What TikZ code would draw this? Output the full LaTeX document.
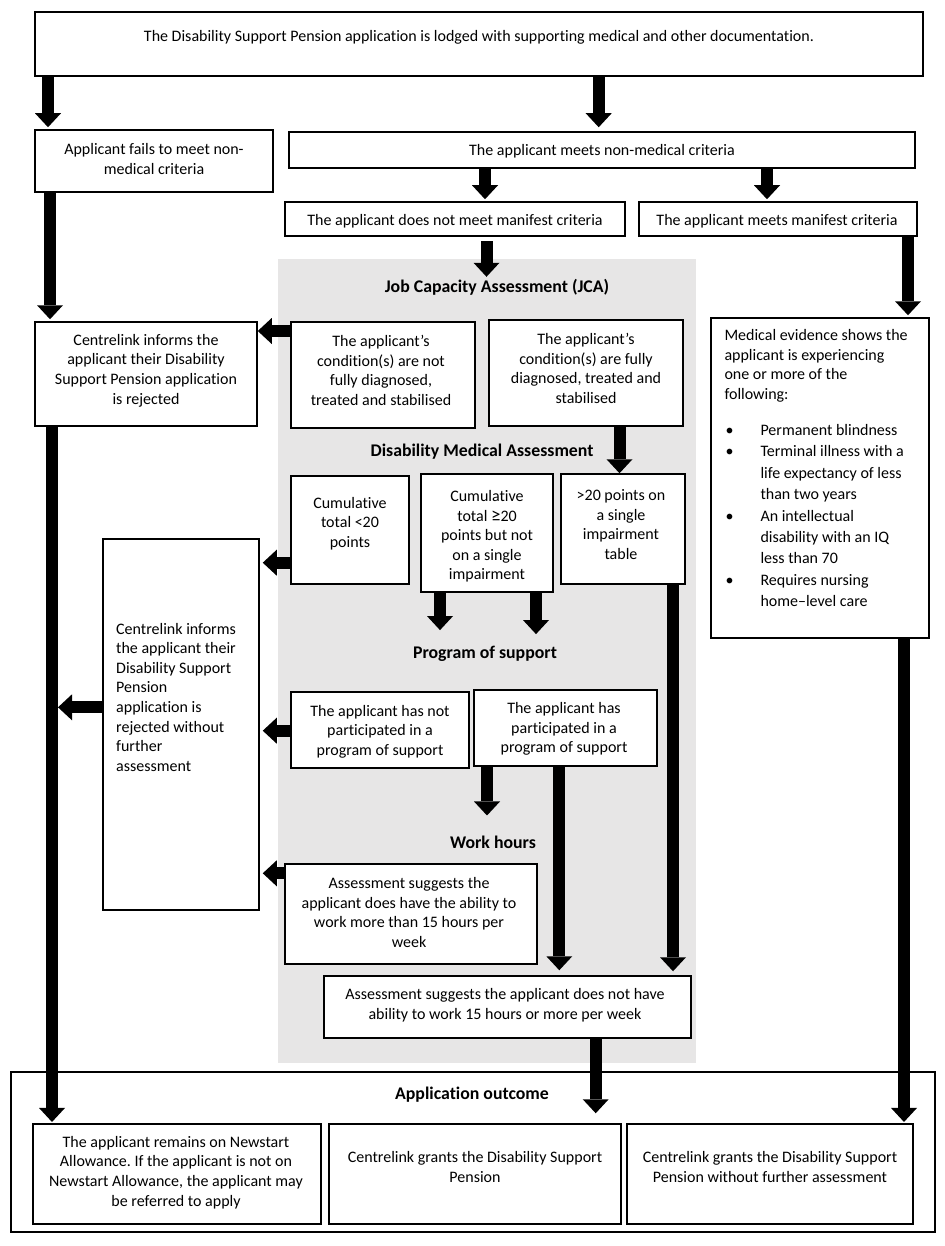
\documentclass[tikz,border=0pt]{standalone}
\usepackage{fontspec}
\setmainfont{Carlito}[Ligatures=NoCommon]
\usetikzlibrary{arrows.meta}
\definecolor{panel}{RGB}{231,230,230}
\frenchspacing
\newcommand\dbox[5]{\node[box, minimum width={#4-#2}, minimum height={#5-#3}] (#1) at ({(#2+#4)/2},{(#3+#5)/2}) {};}
\begin{document}
\begin{tikzpicture}[x=1pt,y=-1pt,
  box/.style={draw=black, line width=1.5pt, fill=white, inner sep=0pt},
  txt/.style={font=\fontsize{16}{19.6}\selectfont, align=center, inner sep=0pt},
  lefttxt/.style={font=\fontsize{16}{19.6}\selectfont, align=left, inner sep=0pt},
  head/.style={font=\fontsize{17.8}{20}\selectfont\bfseries, inner sep=0pt},
  fat/.style={line width=12pt, shorten >=2pt, -{Triangle[width=26pt,length=14pt,line width=0pt]}},
]
\useasboundingbox (0,0) rectangle (944,1246);
\fill[white] (0,0) rectangle (944,1246);
% panels
\node[fill=panel, inner sep=0pt, minimum width=418, minimum height=804] (jcapanel) at (487,661) {};
\node[draw=black, line width=1.5pt, inner sep=0pt, minimum width=924, minimum height=160] (outcome) at (473,1152) {};
% boxes
\dbox{top}{35}{12}{923}{76}
\dbox{fails}{35}{130}{273}{192}
\dbox{nonmed}{289}{132}{915}{168}
\dbox{dnm}{285}{202}{625}{236}
\dbox{meets}{639}{202}{917}{236}
\dbox{rejA}{35}{322}{257}{426}
\dbox{notfully}{291}{322}{475}{428}
\dbox{fully}{489}{320}{683}{426}
\dbox{cumA}{291}{476}{409}{584}
\dbox{cumB}{421}{474}{553}{592}
\dbox{gtw}{561}{474}{685}{584}
\dbox{rejB}{103}{539}{259}{910}
\dbox{hasnot}{291}{692}{469}{768}
\dbox{has}{474}{690}{657}{766}
\dbox{more}{285}{864}{537}{964}
\dbox{notmore}{324}{976}{691}{1038}
\dbox{medical}{711}{318}{929}{638}
\dbox{newstart}{33}{1124}{321}{1224}
\dbox{grants}{329}{1124}{621}{1224}
\dbox{grantsw}{627}{1124}{913}{1224}
% texts
\node[txt] (topt) at (479,37.5) {The Disability Support Pension application is lodged with supporting medical and other documentation.};
\node[txt] (failst) at (154,159) {Applicant fails to meet non-\\medical criteria};
\node[txt] (nonmedt) at (602,151.5) {The applicant meets non-medical criteria};
\node[txt] (dnmt) at (455,221.5) {The applicant does not meet manifest criteria};
\node[txt] (meetst) at (777,221.5) {The applicant meets manifest criteria};
\node[head] (jca) at (497,287) {Job Capacity Assessment (JCA)};
\node[txt] (rejAt) at (146,370.5) {Centrelink informs the\\applicant their Disability\\Support Pension application\\is rejected};
\node[txt] (notfullyt) at (381,370.5) {The applicant’s\\condition(s) are not\\fully diagnosed,\\treated and stabilised};
\node[txt] (fullyt) at (586,368.5) {The applicant’s\\condition(s) are fully\\diagnosed, treated and\\stabilised};
\node[head] (dma) at (482,452) {Disability Medical Assessment};
\node[txt] (cumAt) at (350,523.5) {Cumulative\\total <20\\points};
\node[txt] (cumBt) at (487,536.5) {Cumulative\\total {\fontsize{19}{19.6}\selectfont ≥}20\\points but not\\on a single\\impairment};
\node[txt] (gtwt) at (621,524.5) {>20 points on\\a single\\impairment\\table};
\node[lefttxt, anchor=north west] (rejBt) at (116,622.7) {Centrelink informs\\the applicant their\\Disability Support\\Pension\\application is\\rejected without\\further\\assessment};
\node[head] (pos) at (485,654) {Program of support};
\node[txt] (hasnott) at (380,731.5) {The applicant has not\\participated in a\\program of support};
\node[txt] (hast) at (564,729) {The applicant has\\participated in a\\program of support};
\node[head] (wh) at (493,842) {Work hours};
\node[txt] (moret) at (409,912.5) {Assessment suggests the\\applicant does have the ability to\\work more than 15 hours per\\week};
\node[txt] (notmoret) at (505,1005.5) {Assessment suggests the applicant does not have\\ability to work 15 hours or more per week};
\node[lefttxt, anchor=north west] (medicalt) at (724.3,329.4) {Medical evidence shows the\\applicant is experiencing\\one or more of the\\following:\\[16.4pt]
\hspace*{1pt}\makebox[35pt][l]{\textbullet}Permanent blindness\\[1.8pt]
\hspace*{1pt}\makebox[35pt][l]{\textbullet}Terminal illness with a\\[1.8pt]
\hspace*{36pt}life expectancy of less\\[1.8pt]
\hspace*{36pt}than two years\\[1.8pt]
\hspace*{1pt}\makebox[35pt][l]{\textbullet}An intellectual\\[1.8pt]
\hspace*{36pt}disability with an IQ\\[1.8pt]
\hspace*{36pt}less than 70\\[1.8pt]
\hspace*{1pt}\makebox[35pt][l]{\textbullet}Requires nursing\\[1.8pt]
\hspace*{36pt}home–level care};
\node[head] (ao) at (472,1095) {Application outcome};
\node[txt] (newstartt) at (176,1172.5) {The applicant remains on Newstart\\Allowance. If the applicant is not on\\Newstart Allowance, the applicant may\\be referred to apply};
\node[txt] (grantst) at (475,1167) {Centrelink grants the Disability Support\\Pension};
\node[txt] (grantswt) at (770,1167) {Centrelink grants the Disability Support\\Pension without further assessment};
% connectors
\coordinate (mergeA) at (58,707.3);
\draw[fat] (top.south -| 48,0) -- (fails.north -| 48,0);
\draw[fat, shorten >=4pt] (top.south -| 598.7,0) -- (nonmed.north -| 598.7,0);
\draw[fat] (nonmed.south -| 485,0) -- (dnm.north -| 485,0);
\draw[fat] (nonmed.south -| 767,0) -- (meets.north -| 767,0);
\draw[fat, shorten <=4.7pt, shorten >=2pt] (dnm.south -| 486.5,0) -- (jca.north -| 486.5,0);
\draw[fat] (meets.south -| 908,0) -- (medical.north -| 908,0);
\draw[fat] (fails.south -| 50,0) -- (rejA.north -| 50,0);
\draw[fat, shorten >=0pt] (notfully.west |- 0,331) -- (rejA.east |- 0,331);
\draw[fat, shorten >=0pt] (fully.south -| 619.5,0) -- (gtw.north -| 619.5,0);
\draw[fat, shorten >=3pt] (cumA.west |- 0,562.7) -- (rejB.east |- 0,562.7);
\draw[fat, shorten >=16pt] (cumB.south -| 440,0) -- (pos.north -| 440,0);
\draw[fat, shorten >=12pt] (cumB.south -| 536,0) -- (pos.north -| 536,0);
\draw[fat, shorten >=1.3pt] (rejA.south -| 52,0) -- (newstart.north -| 52,0);
\draw[fat, shorten >=0pt] (rejB.west |- mergeA) -- (mergeA);
\draw[fat, shorten >=3pt] (hasnot.west |- 0,730.7) -- (rejB.east |- 0,730.7);
\draw[fat, shorten >=20pt] (has.south -| 487,0) -- (wh.north -| 487,0);
\draw[fat, shorten >=5pt] (has.south -| 559.3,0) -- (notmore.north -| 559.3,0);
\draw[fat, shorten >=4pt] (gtw.south -| 673,0) -- (notmore.north -| 673,0);
\draw[fat, shorten >=3pt] (more.west |- 0,873.3) -- (rejB.east |- 0,873.3);
\draw[fat, shorten >=10pt] (notmore.south -| 595.7,0) -- (grants.north -| 595.7,0);
\draw[fat, shorten >=1.3pt] (medical.south -| 904,0) -- (grantsw.north -| 904,0);
\end{tikzpicture}
\end{document}
